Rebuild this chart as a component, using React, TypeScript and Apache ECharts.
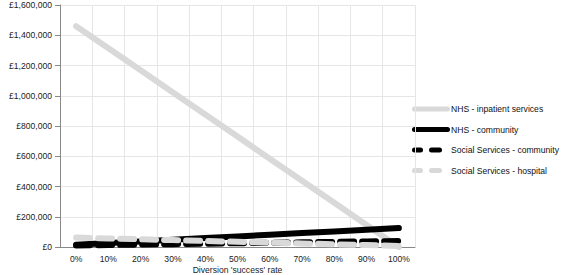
import React, { useEffect, useRef } from "react";
import * as echarts from "echarts";

const categories = ["0%", "10%", "20%", "30%", "40%", "50%", "60%", "70%", "80%", "90%", "100%"];
const nhsInpatient = [1460000, 1314000, 1168000, 1022000, 876000, 730000, 584000, 438000, 292000, 146000, 0];
const nhsCommunity = [15000, 26000, 37000, 48000, 59000, 70000, 81000, 92000, 103000, 114000, 125000];
const ssCommunity = [10000, 13000, 16000, 19000, 22000, 25000, 28000, 31000, 34000, 37000, 40000];
const ssHospital = [62000, 56500, 51000, 45500, 40000, 34500, 29000, 23500, 18000, 12500, 7000];
const yTicks = [0, 200000, 400000, 600000, 800000, 1000000, 1200000, 1400000, 1600000];
const seriesNames = ["NHS - inpatient services", "NHS - community", "Social Services - community", "Social Services - hospital"];

const FONT = "Liberation Sans";
const FS = 8.6;

function fmt(v: number) {
  return "£" + v.toLocaleString("en-GB");
}

export default function App() {
  const ref = useRef<HTMLDivElement>(null);
  useEffect(() => {
    if (!ref.current) return;
    const chart = echarts.init(ref.current, undefined, { renderer: "svg" });
    const colors = ["#d9d9d9", "#000000", "#000000", "#d9d9d9"];
    const dashes: any[] = ["solid", "solid", [14, 8], [14, 8]];
    const series = [nhsInpatient, nhsCommunity, ssCommunity, ssHospital].map((data, i) => ({
      name: seriesNames[i],
      type: "line",
      data,
      symbol: "none",
      showSymbol: false,
      lineStyle: { color: colors[i], width: 6, type: dashes[i], cap: "round" },
      itemStyle: { color: colors[i] },
    }));
    const legendGraphics: any[] = [];
    const rowY = [109, 129.5, 150, 170.5];
    seriesNames.forEach((n, i) => {
      if (i < 2) {
        legendGraphics.push({
          type: "line",
          shape: { x1: 414.5, y1: rowY[i], x2: 447.5, y2: rowY[i] },
          style: { stroke: colors[i], lineWidth: 5, lineCap: "round" },
        });
      } else {
        legendGraphics.push({
          type: "line",
          shape: { x1: 414.5, y1: rowY[i], x2: 420.5, y2: rowY[i] },
          style: { stroke: colors[i], lineWidth: 5, lineCap: "round" },
        });
        legendGraphics.push({
          type: "line",
          shape: { x1: 431.5, y1: rowY[i], x2: 439.5, y2: rowY[i] },
          style: { stroke: colors[i], lineWidth: 5, lineCap: "round" },
        });
      }
      legendGraphics.push({
        type: "text",
        x: 451,
        y: rowY[i],
        style: { text: n, fontFamily: FONT, fontSize: FS, fill: "#111", textVerticalAlign: "middle", verticalAlign: "middle" },
      });
    });
    chart.setOption({
      animation: false,
      grid: { left: 60, right: 152, top: 5, bottom: 28, containLabel: false, outerBoundsMode: "none" },
      graphic: legendGraphics,
      xAxis: {
        type: "category",
        data: categories,
        boundaryGap: true,
        name: "Diversion 'success' rate",
        nameLocation: "middle",
        nameGap: 18,
        nameMoveOverlap: false,
        nameTextStyle: { fontFamily: FONT, fontSize: FS, color: "#222", verticalAlign: "top" },
        axisLine: { lineStyle: { color: "#888", width: 1 } },
        axisTick: { show: false },
        axisLabel: { fontFamily: FONT, fontSize: FS, color: "#222", margin: 7, interval: 0 },
        splitLine: { show: true, interval: 0, lineStyle: { color: "#e6e6e6" } },
      },
      yAxis: {
        type: "value",
        min: yTicks[0],
        max: yTicks[yTicks.length - 1],
        interval: 200000,
        axisLine: { show: true, lineStyle: { color: "#888", width: 1 } },
        axisTick: { show: true, length: 5, lineStyle: { color: "#888" } },
        axisLabel: { fontFamily: FONT, fontSize: FS, color: "#222", margin: 8, formatter: (v: number) => fmt(v) },
        splitLine: { show: true, lineStyle: { color: "#e6e6e6" } },
      },
      series,
    });
    return () => chart.dispose();
  }, []);
  return <div ref={ref} style={{ width: 567, height: 275, position: "absolute", left: 0, top: 0 }} />;
}
